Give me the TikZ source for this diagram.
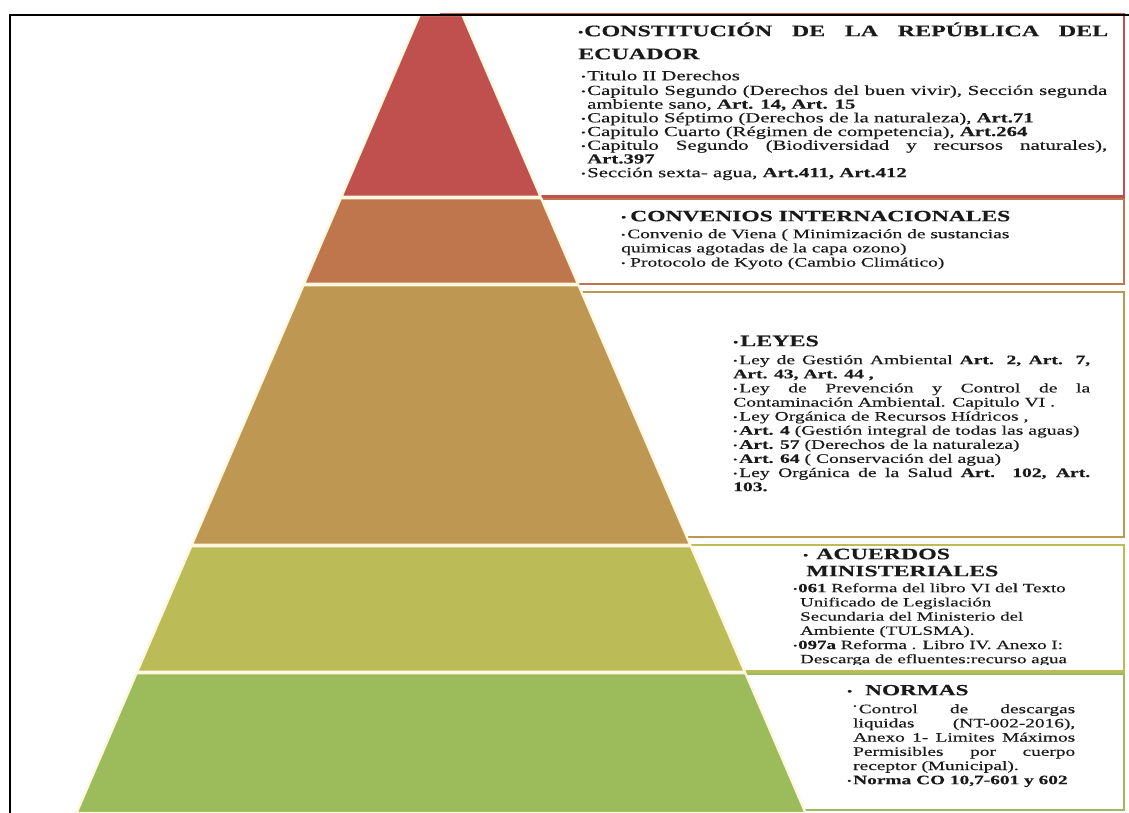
\documentclass[tikz,border=0pt]{standalone}
\usepackage{fontspec}
\usepackage{graphicx}
\setmainfont{Liberation Serif}[FakeStretch=1.5, FakeBold=0.35]
\definecolor{tRed}{HTML}{C0504D}
\definecolor{tOrange}{HTML}{C0764C}
\definecolor{tTan}{HTML}{BE9752}
\definecolor{tOlive}{HTML}{BBBB57}
\definecolor{tGreen}{HTML}{9CBB5A}
\definecolor{cream}{HTML}{FFF8E1}
\definecolor{ink}{HTML}{1A1A1A}
\newcommand\bu{\raisebox{0.8pt}{\scalebox{0.6}{•}}}
\newcommand\bb{\makebox[6pt][l]{\bu}}
\newcommand\hb[1]{\makebox[#1][l]{\bu}}
\newcommand\jl[2]{\makebox[#1][s]{#2}}
\tikzset{
  tier/.style={fill=#1, draw=cream, line width=2.4pt, line join=round},
  lbox/.style={draw=#1, fill=white, line width=2.2pt},
  bd/.style 2 args={inner sep=0pt, anchor=north west, align=left, text=ink,
    font=\fontsize{#1}{#2}\selectfont, yshift={0.7*#2pt}},
  hd/.style 2 args={inner sep=0pt, anchor=north west, align=left, text=ink,
    font=\bfseries\fontsize{#1}{#2}\selectfont, yshift={0.7*#2pt}},
}
\begin{document}
\begin{tikzpicture}[x=1pt,y=-1pt]
\useasboundingbox (0,0) rectangle (1129,812);
% text boxes (behind the pyramid)
\draw[lbox=tRed]    (441,14)  rectangle (1124,196.5);
\draw[lbox=tOrange] (441,199) rectangle (1124,284);
\draw[lbox=tTan]    (441,292) rectangle (1124,537);
\draw[lbox=tOlive]  (441,545) rectangle (1124,671.5);
\draw[lbox=tGreen]  (441,674) rectangle (1124,810);
% pyramid tiers
\draw[tier=tRed]    (419.6,15) -- (462.4,15) -- (540.6,196.75) -- (341.4,196.75) -- cycle;
\draw[tier=tOrange] (340.8,198.25) -- (541.2,198.25) -- (578.0,283.75) -- (304.0,283.75) -- cycle;
\draw[tier=tTan]    (303.4,285.25) -- (578.6,285.25) -- (690.2,544.75) -- (191.8,544.75) -- cycle;
\draw[tier=tOlive]  (191.2,546.25) -- (690.9,546.25) -- (744.8,671.75) -- (137.2,671.75) -- cycle;
\draw[tier=tGreen]  (136.5,673.25) -- (745.5,673.25) -- (805.6,813) -- (76.5,813) -- cycle;
% box 1
\node[hd={16}{23}] (h1) at (578,36) {\strut\jl{530pt}{\hb{6pt}CONSTITUCIÓN DE LA REPÚBLICA DEL}\\ECUADOR};
\node[bd={13.85}{13.7}] (t1) at (581,80) {\strut\bb Titulo II Derechos\\
\bb\jl{520pt}{Capitulo Segundo (Derechos del buen vivir), Sección segunda}\\
\hspace*{6pt}ambiente sano, \textbf{Art. 14, Art. 15}\\
\bb Capitulo Séptimo (Derechos de la naturaleza), \textbf{Art.71}\\
\bb Capitulo Cuarto (Régimen de competencia), \textbf{Art.264}\\
\bb\jl{520pt}{Capitulo Segundo (Biodiversidad y recursos naturales),}\\
\hspace*{6pt}\textbf{Art.397}\\
\bb Sección sexta- agua, \textbf{Art.411, Art.412}};
% box 2
\node[hd={15.7}{17}] (h2) at (621,221) {\strut\hb{9pt}CONVENIOS INTERNACIONALES};
\node[bd={13}{14.2}] (t2) at (621,238) {\strut\bb Convenio de Viena ( Minimización de sustancias\\
quimicas agotadas de la capa ozono)\\
\bu\ Protocolo de Kyoto (Cambio Climático)};
% box 3
\node[hd={16}{17}] (h3) at (733,346) {\strut\hb{7pt}LEYES};
\node[bd={13.07}{14.1}] (t3) at (733,364) {\strut\jl{357pt}{\bb Ley de Gestión Ambiental \textbf{Art. 2, Art. 7,}}\\
\textbf{Art. 43, Art. 44 ,}\\
\jl{357pt}{\bb Ley de Prevención y Control de la}\\
Contaminación Ambiental. Capitulo VI .\\
\bb Ley Orgánica de Recursos Hídricos ,\\
\bb\textbf{Art. 4} (Gestión integral de todas las aguas)\\
\bb\textbf{Art. 57} (Derechos de la naturaleza)\\
\bb\textbf{Art. 64} ( Conservación del agua)\\
\jl{357pt}{\bb Ley Orgánica de la Salud \textbf{Art. 102, Art.}}\\
\textbf{103.}};
% box 4
\begin{scope}
\clip (443,547) rectangle (1122,664.5);
\node[hd={15.9}{17}] (h4) at (803,559) {\strut\hb{13pt}ACUERDOS\\\hspace*{3pt}MINISTERIALES};
\node[bd={12.6}{14.2}] (t4) at (793,592) {\strut\hb{5pt}\textbf{061} Reforma del libro VI del Texto\\
\hspace*{7pt}Unificado de Legislación\\
\hspace*{7pt}Secundaria del Ministerio del\\
\hspace*{7pt}Ambiente (TULSMA).\\
\hb{5pt}\textbf{097a} Reforma . Libro IV. Anexo I:\\
\hspace*{7pt}Descarga de efluentes:recurso agua};
\end{scope}
% box 5
\node[hd={15.5}{17}] (h5) at (847,695) {\strut\hb{18pt}NORMAS};
\node[bd={12.9}{14.2}] (t5) at (853,713) {\strut\jl{222pt}{\raisebox{5pt}{\scalebox{0.5}{•}}\,Control de descargas}\\
\jl{222pt}{liquidas (NT-002-2016),}\\
\jl{222pt}{Anexo 1- Limites Máximos}\\
\jl{222pt}{Permisibles por cuerpo}\\
receptor (Municipal).\\
\hspace*{-6pt}\bb\textbf{Norma CO 10,7-601 y 602}};
% outer frame
\draw[black, line width=2pt] (10,14.5) rectangle (1140,830);
\end{tikzpicture}
\end{document}
